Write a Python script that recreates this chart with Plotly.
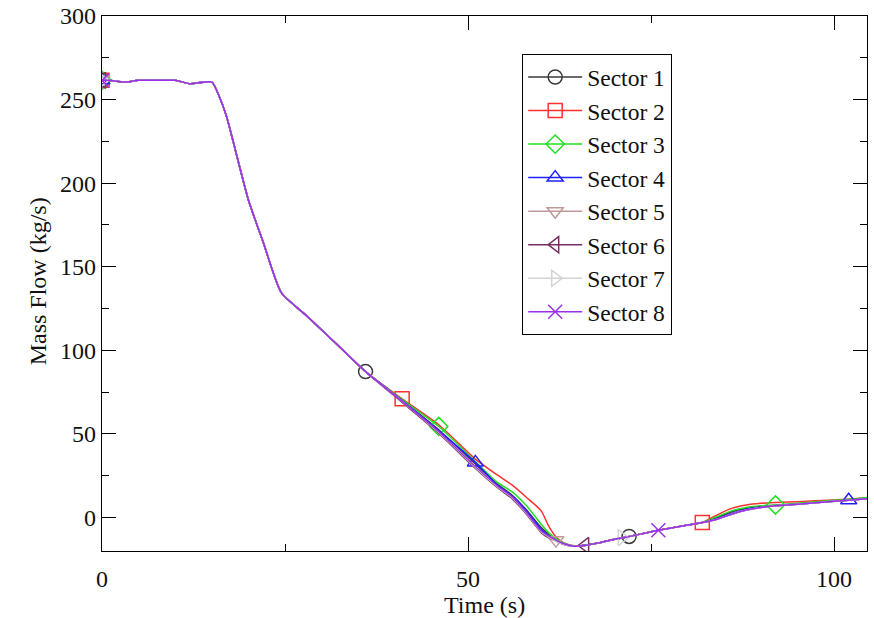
import plotly.graph_objects as go

time_s = [0, 1, 3, 5, 8, 10, 12, 15, 16, 17, 20, 22, 24.5, 28, 32, 36,
          41, 46, 51, 54, 56, 58, 60, 61, 62, 63, 64, 65, 66, 68, 70, 71, 72,
          76, 80, 82, 84, 86, 88, 90, 92, 95, 100, 102, 104.5]

head = [261.5, 261.5, 260.5, 261.5, 261.5, 261.5, 259.5, 260.5, 252, 240,
        190, 165, 134.5, 120.5, 104, 87.3]

sector1 = head + [70, 52.5, 32, 20, 13.5, 4.5, -6, -10, -13.5, -15.5, -16.8, -17, -16.5, -15, -13, -12.2, -11.3,
                  -7.6, -4.5, -3, 0, 3.5, 5.5, 6.5, 7.3, 8.3, 10, 10.6, 11.5]
sector2 = head + [71, 55.5, 35, 25.5, 19.5, 12, 4, -5, -11.5, -15, -16.5, -17, -16.5, -15, -13, -12.2, -11.3,
                  -7.6, -4.5, -3, 1.5, 5.5, 7.5, 8.5, 9, 9.5, 10.5, 11, 11.8]
sector3 = head + [70.5, 54.5, 33.5, 21, 15.5, 7, -4, -9, -12.5, -15, -16.5, -17, -16.5, -15, -13, -12.2, -11.3,
                  -7.6, -4.5, -3, 0.5, 4, 6, 7, 7.5, 8.5, 10.3, 10.9, 12]
sector4 = head + [70, 52, 33, 19.5, 13, 4, -7, -11, -13.5, -15.5, -16.8, -17, -16.5, -15, -13, -12.2, -11.3,
                  -7.6, -4.5, -3, -0.5, 2.5, 5, 6.3, 7, 8, 9.8, 10.4, 11.3]
sector5 = head + [69, 50.5, 29.5, 18, 11.5, 2, -9, -12, -13.5, -15.5, -16.8, -17.2, -16.7, -15, -13, -12.2, -11.4,
                  -7.6, -4.5, -3, -1, 2, 4.5, 6, 7, 8, 9.8, 10.4, 11.3]
sector6 = head + [69, 50.5, 29.5, 18, 11.5, 2, -9, -12, -14, -16, -17, -17.2, -16.7, -15, -13, -12.2, -11.4,
                  -7.6, -4.5, -3, -1, 2, 4.5, 6, 7, 8, 9.8, 10.4, 11.3]
sector7 = head + [69.5, 51, 30, 18.5, 12, 2.5, -8.5, -11.5, -14, -15.8, -17, -17.2, -16.7, -15, -13, -12, -11.4,
                  -7.6, -4.5, -3, -1, 2, 4.5, 6, 7, 8, 9.8, 10.4, 11.3]
sector8 = head + [69.5, 51.5, 30.5, 19, 12.5, 3, -8, -11, -13.5, -15.5, -16.8, -17.2, -16.7, -15, -13, -12.2, -11.4,
                  -7.6, -4.5, -3, -1, 2, 4.5, 6, 7, 8, 9.8, 10.4, 11.3]

names = ["Sector 1", "Sector 2", "Sector 3", "Sector 4",
         "Sector 5", "Sector 6", "Sector 7", "Sector 8"]
series = [sector1, sector2, sector3, sector4, sector5, sector6, sector7, sector8]
marker_times = [[0, 36, 72], [0, 41, 82], [0, 46, 92], [0, 51, 102],
                [0, 62], [0, 66], [0, 71], [0, 76]]

colors = ["#3a3a3a", "#ff3030", "#22e022", "#2020ff",
          "#c09a9a", "#7a2e62", "#d4d4d4", "#9b30e8"]
symbols = ["circle-open", "square-open", "diamond-open", "triangle-up-open",
           "triangle-down-open", "triangle-left-open", "triangle-right-open", "x-thin-open"]

FONT = "Liberation Serif"
fig = go.Figure()

for i, (name, ys) in enumerate(zip(names, series)):
    col = colors[i]
    fig.add_trace(go.Scatter(x=time_s, y=ys, mode="lines",
                             line=dict(color=col, width=1.5, shape="spline", smoothing=0.6),
                             showlegend=False, legendgroup=name, hoverinfo="skip"))
    idx = [time_s.index(t) for t in marker_times[i]]
    fig.add_trace(go.Scatter(x=[time_s[k] for k in idx], y=[ys[k] for k in idx], mode="markers",
                             marker=dict(symbol=symbols[i], size=14, color=col,
                                         line=dict(color=col, width=1.5)),
                             showlegend=False, legendgroup=name))
    fig.add_trace(go.Scatter(x=[None], y=[None], mode="lines+markers", name=name,
                             line=dict(color=col, width=1.5),
                             marker=dict(symbol=symbols[i], size=14, color=col,
                                         line=dict(color=col, width=1.5)),
                             legendgroup=name))

axis_common = dict(showline=True, linecolor="black", linewidth=1.3, mirror="ticks",
                   ticks="inside", ticklen=14, tickwidth=1.3, tickcolor="black",
                   showgrid=False, zeroline=False, automargin=False,
                   ticklabeloverflow="allow",
                   tickfont=dict(family=FONT, size=24, color="#111"))

fig.update_layout(
    width=874, height=618,
    margin=dict(l=102, r=7, t=16, b=67),
    paper_bgcolor="white", plot_bgcolor="white",
    font=dict(family=FONT, color="#111"),
    xaxis=dict(range=[0, 104.5], tick0=0, dtick=50,
               minor=dict(ticks="inside", ticklen=7, tickwidth=1.3, tickcolor="black", dtick=25, tick0=0),
               ticklabelstandoff=6, **axis_common),
    yaxis=dict(range=[-20, 300], tick0=0, dtick=50,
               minor=dict(ticks="inside", ticklen=7, tickwidth=1.3, tickcolor="black", dtick=25, tick0=0),
               **axis_common),
    legend=dict(x=0.549, y=0.929, xanchor="left", yanchor="top",
                bgcolor="white", bordercolor="black", borderwidth=1.2,
                font=dict(family=FONT, size=23.5, color="#111"),
                tracegroupgap=0, itemwidth=54),
    showlegend=True,
    annotations=[
        dict(text="Time (s)", xref="paper", yref="paper", x=0.5, y=-0.101,
             xanchor="center", yanchor="middle", showarrow=False,
             font=dict(family=FONT, size=24, color="#111")),
        dict(text="Mass Flow (kg/s)", xref="paper", yref="paper", x=-0.0837, y=0.504,
             xanchor="center", yanchor="middle", showarrow=False, textangle=-90,
             font=dict(family=FONT, size=24, color="#111")),
    ],
)

# remove the default page margin so the figure fills the window exactly
fig.write_html("out.html", config={"displayModeBar": False},
               post_script="document.body.style.margin='0px';")
